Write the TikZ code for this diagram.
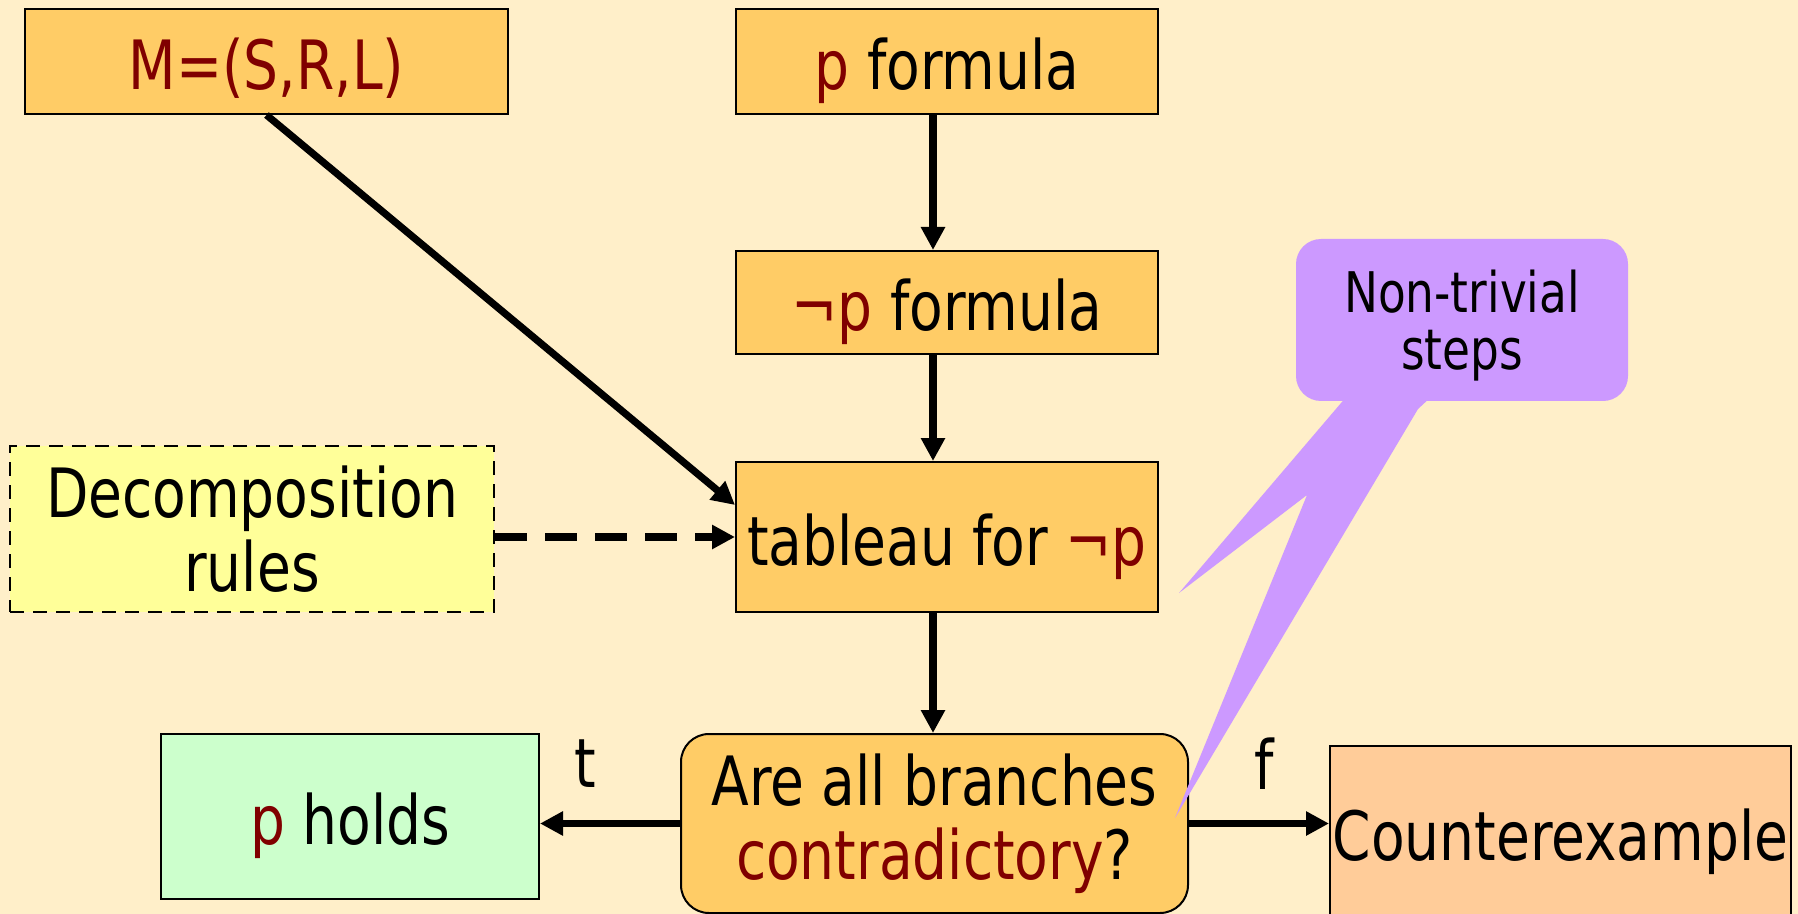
\documentclass[tikz,border=0pt]{standalone}
\usepackage{fontspec}
\setmainfont{DejaVu Sans Condensed}[FakeStretch=0.9]
\usepackage{xcolor}
\usepackage{tikz}
\usetikzlibrary{arrows.meta, positioning, calc}
\definecolor{bgcream}{RGB}{255,239,201}
\definecolor{boxorange}{RGB}{255,204,102}
\definecolor{darkred}{RGB}{128,0,0}
\definecolor{ruleyellow}{RGB}{255,255,153}
\definecolor{holdgreen}{RGB}{204,255,204}
\definecolor{cexpeach}{RGB}{255,204,153}
\definecolor{notepurple}{RGB}{204,153,255}
\newcommand{\hl}[1]{\textcolor{darkred}{#1}}

\begin{document}
\begin{tikzpicture}[
    x=0.5pt, y=-0.5pt,
    >={Triangle[length=11.5pt, width=11.5pt]},
    box/.style={draw, line width=1pt, inner sep=0pt, align=center, font=\fontsize{34}{37}\selectfont},
    oneline/.style={box, text height=34pt, text depth=6pt},
    arr/.style={->, line width=3.6pt},
]
    \clip (0,0) rectangle (1798,914);
    \fill[bgcream] (0,0) rectangle (1798,914);

    \node[oneline, fill=boxorange, minimum width=241.5pt, minimum height=52.5pt] (model) at (266.5,61.5) {\hl{M=(S,R,L)}};
    \node[oneline, fill=boxorange, minimum width=211pt, minimum height=52.5pt] (form) at (947,61.5) {\hl{p} formula};
    \node[oneline, fill=boxorange, minimum width=211pt, minimum height=51.5pt] (negform) at (947,302.5) {\hl{¬p} formula};
    \node[oneline, fill=boxorange, minimum width=211pt, minimum height=75pt] (tab) at (947,537) {tableau for \hl{¬p}};
    \node[box, fill=ruleyellow, dash pattern=on 7pt off 4.5pt, minimum width=242pt, minimum height=83pt] (rules) at (252,529) {Decomposition\\rules};
    \node[box, fill=boxorange, rounded corners=14pt, minimum width=253.5pt, minimum height=89.5pt] (ask) at (934.5,823.5) {Are all branches\\\hl{contradictory}?};
    \node[oneline, fill=holdgreen, minimum width=189pt, minimum height=82.5pt] (holds) at (350,816.5) {\hl{p} holds};
    \node[oneline, fill=cexpeach, minimum width=230.5pt, minimum height=86pt] (cex) at (1560.5,832) {Counterexample};

    \draw[arr] (model.south) -- ([yshift=16pt]tab.west);
    \draw[arr] ([xshift=-7pt]form.south) -- ([xshift=-7pt]negform.north);
    \draw[arr] ([xshift=-7pt]negform.south) -- ([xshift=-7pt]tab.north);
    \draw[arr] ([xshift=-7pt]tab.south) -- ([xshift=-7pt]tab.south |- ask.north);
    \draw[arr, dash pattern=on 16pt off 9pt] (rules.east |- tab.west) -- (tab.west);
    \draw[arr] (ask.west) -- node[pos=0.68, above=16pt, inner sep=0pt, font=\fontsize{34}{37}\selectfont] (tlab) {t} (ask.west -| holds.east);
    \draw[arr] (ask.east) -- node[pos=0.54, above=15pt, inner sep=0pt, font=\fontsize{34}{37}\selectfont] (flab) {f} (ask.east -| cex.west);

    % callout
    \node[fill=notepurple, rounded corners=12.5pt, inner sep=0pt, minimum width=166pt, minimum height=81pt, align=center, text depth=0pt, font=\fontsize{28}{28.5}\selectfont] (note) at (1462,320) {Non-trivial\\steps};
    \fill[notepurple] (1347,396) -- (1179,593) -- (1307,495) -- (1175,818) -- (1418,409) -- (1432,396) -- cycle;
\end{tikzpicture}
\end{document}
